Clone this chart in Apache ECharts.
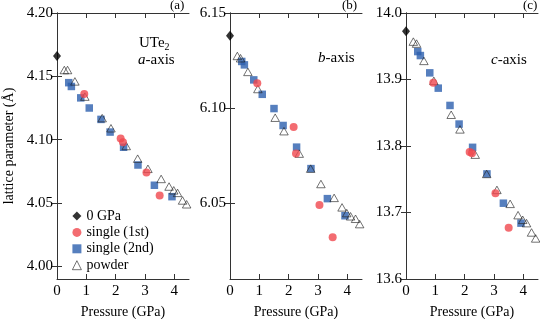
<!DOCTYPE html>
<html><head><meta charset="utf-8">
<script src="https://cdn.jsdelivr.net/npm/echarts@6/dist/echarts.min.js"></script>
<style>html,body{margin:0;padding:0;background:#fff}#c{width:540px;height:319px}</style>
</head><body><div id="c"></div>
<script>
// ---- data ----
const pressureZero = [0];
const pressure1st = [0.93, 2.17, 2.25, 3.05, 3.50];
const pressure2nd = [0.40, 0.49, 0.81, 1.10, 1.50, 1.81, 2.27, 2.76, 3.32, 3.92];
const pressurePowder = [0.25, 0.36, 0.61, 0.95, 1.54, 1.84, 2.36, 2.75, 3.10, 3.55, 3.82, 3.98, 4.11, 4.28, 4.42];

const aZero = [4.166];
const a1st = [4.136, 4.101, 4.098, 4.074, 4.056];
const a2nd = [4.145, 4.142, 4.133, 4.125, 4.116, 4.106, 4.094, 4.080, 4.064, 4.055];
const aPowder = [4.155, 4.155, 4.146, 4.134, 4.117, 4.109, 4.095, 4.085, 4.077, 4.069, 4.063, 4.060, 4.058, 4.052, 4.049];

const bZero = [6.138];
const b1st = [6.113, 6.090, 6.076, 6.049, 6.032];
const b2nd = [6.1245, 6.1227, 6.1148, 6.1072, 6.0997, 6.0908, 6.0794, 6.0681, 6.0523, 6.0433];
const bPowder = [6.1274, 6.1262, 6.1190, 6.1100, 6.0949, 6.0878, 6.0760, 6.0681, 6.0600, 6.0527, 6.0477, 6.0447, 6.0430, 6.0417, 6.0389];

const cZero = [13.9725];
const c1st = [13.895, 13.791, 13.789, 13.729, 13.677];
const c2nd = [13.942, 13.936, 13.910, 13.887, 13.861, 13.833, 13.798, 13.758, 13.714, 13.684];
const cPowder = [13.957, 13.954, 13.928, 13.898, 13.847, 13.825, 13.787, 13.758, 13.734, 13.713, 13.696, 13.689, 13.684, 13.670, 13.661];

const xTicks = [0, 1, 2, 3, 4];
const aTicks = [4.00, 4.05, 4.10, 4.15, 4.20];
const bTicks = [6.05, 6.10, 6.15];
const cTicks = [13.6, 13.7, 13.8, 13.9, 14.0];

const seriesNames = ['0 GPa', 'single (1st)', 'single (2nd)', 'powder'];
const panelLabels = ['(a)', '(b)', '(c)'];

// ---- layout/styles ----
const SERIF = '"Liberation Serif", "Times New Roman", serif';
const AX = '#333';
const grids = [
  {left: 57, top: 13, width: 132, height: 266, outerBoundsMode: 'none'},
  {left: 230, top: 13, width: 132, height: 266, outerBoundsMode: 'none'},
  {left: 406, top: 13, width: 132, height: 266, outerBoundsMode: 'none'}
];
const yRanges = [
  {min: 3.99, max: 4.20, ticks: aTicks, dec: 2},
  {min: 6.01, max: 6.15, ticks: bTicks, dec: 2},
  {min: 13.6, max: 14.0, ticks: cTicks, dec: 1}
];
const values = [
  [aZero, a1st, a2nd, aPowder],
  [bZero, b1st, b2nd, bPowder],
  [cZero, c1st, c2nd, cPowder]
];
const zip = (xs, ys) => xs.map((x, i) => [x, ys[i]]);

const xAxis = [], yAxis = [], series = [];
grids.forEach((g, i) => {
  xAxis.push({
    gridIndex: i, type: 'value', min: 0, max: 4.5, position: 'bottom',
    name: 'Pressure (GPa)', nameLocation: 'middle', nameGap: 26,
    nameTextStyle: {fontFamily: SERIF, fontSize: 14, color: '#000'},
    axisLine: {show: true, lineStyle: {color: AX, width: 1}},
    axisTick: {show: true, inside: true, length: 5, customValues: [1, 2, 3, 4], lineStyle: {color: AX}},
    axisLabel: {show: true, customValues: xTicks, margin: 5, fontFamily: SERIF, fontSize: 15, color: '#000'},
    splitLine: {show: false}
  });
  xAxis.push({
    gridIndex: i, type: 'value', min: 0, max: 4.5, position: 'top',
    axisLine: {show: true, lineStyle: {color: AX, width: 1}},
    axisTick: {show: true, inside: true, length: 5, customValues: [1, 2, 3, 4], lineStyle: {color: AX}},
    axisLabel: {show: false}, splitLine: {show: false}
  });
  const yr = yRanges[i];
  const yl = {
    gridIndex: i, type: 'value', min: yr.min, max: yr.max, position: 'left',
    axisLine: {show: true, lineStyle: {color: AX, width: 1}},
    axisTick: {show: true, inside: true, length: 5, customValues: yr.ticks, lineStyle: {color: AX}},
    axisLabel: {show: true, customValues: yr.ticks, margin: 4, fontFamily: SERIF, fontSize: 15, color: '#000',
      formatter: v => Number(v).toFixed(yr.dec)},
    splitLine: {show: false}
  };
  if (i === 0) {
    yl.name = 'lattice parameter (Å)';
    yl.nameLocation = 'middle';
    yl.nameGap = 41;
    yl.nameTextStyle = {fontFamily: SERIF, fontSize: 14, color: '#000'};
  }
  yAxis.push(yl);
  yAxis.push({
    gridIndex: i, type: 'value', min: yr.min, max: yr.max, position: 'right',
    axisLine: {show: true, lineStyle: {color: AX, width: 1}},
    axisTick: {show: true, inside: true, length: 5, customValues: yr.ticks, lineStyle: {color: AX}},
    axisLabel: {show: false}, splitLine: {show: false}
  });
  const v = values[i];
  const xi = 2 * i, yi = 2 * i;
  series.push({
    name: seriesNames[2], type: 'scatter', xAxisIndex: xi, yAxisIndex: yi,
    symbol: 'rect', symbolSize: 7.5, itemStyle: {color: '#2c5fae'},
    data: zip(pressure2nd, v[2]), z: 2
  });
  series.push({
    name: seriesNames[3], type: 'scatter', xAxisIndex: xi, yAxisIndex: yi,
    symbol: 'triangle', symbolSize: [8.5, 7.5],
    itemStyle: {color: 'rgba(255,255,255,0)', borderColor: '#222', borderWidth: 0.8},
    data: zip(pressurePowder, v[3]), z: 3
  });
  series.push({
    name: seriesNames[1], type: 'scatter', xAxisIndex: xi, yAxisIndex: yi,
    symbol: 'circle', symbolSize: 8, itemStyle: {color: '#f0474d'},
    data: zip(pressure1st, v[1]), z: 4
  });
  series.push({
    name: seriesNames[0], type: 'scatter', xAxisIndex: xi, yAxisIndex: yi,
    symbol: 'diamond', symbolSize: [8, 10], itemStyle: {color: '#000'},
    data: zip(pressureZero, v[0]), z: 5
  });
});

const txt = (extra) => Object.assign({fontFamily: SERIF, fontSize: 15, fontWeight: 'normal', color: '#000'}, extra || {});
const titleBase = {padding: 0, textStyle: {fontFamily: SERIF, fontSize: 13, fontWeight: 'normal', color: '#000'}};
const title = [
  Object.assign({}, titleBase, {text: panelLabels[0], left: 170, top: -1}),
  Object.assign({}, titleBase, {text: panelLabels[1], left: 342, top: -1}),
  Object.assign({}, titleBase, {text: panelLabels[2], left: 523, top: -1}),
  {text: '{n|UTe}{s|2}', left: 139, top: 34, padding: 0,
    textStyle: {fontWeight: 'normal', rich: {n: txt(), s: txt({fontSize: 10, padding: [8, 0, 0, 0]})}}},
  {text: '{i|a}{n|-axis}', left: 138, top: 53, padding: 0,
    textStyle: {fontWeight: 'normal', rich: {i: txt({fontStyle: 'italic'}), n: txt()}}},
  {text: '{i|b}{n|-axis}', left: 318, top: 51, padding: 0,
    textStyle: {fontWeight: 'normal', rich: {i: txt({fontStyle: 'italic'}), n: txt()}}},
  {text: '{i|c}{n|-axis}', left: 491, top: 53, padding: 0,
    textStyle: {fontWeight: 'normal', rich: {i: txt({fontStyle: 'italic'}), n: txt()}}}
];

const chart = echarts.init(document.getElementById('c'), null, {renderer: 'canvas'});
chart.setOption({
  animation: false,
  backgroundColor: '#fff',
  title: title,
  grid: grids,
  xAxis: xAxis,
  yAxis: yAxis,
  legend: {
    data: [
      {name: seriesNames[0]},
      {name: seriesNames[1]},
      {name: seriesNames[2]},
      {name: seriesNames[3], itemStyle: {borderWidth: 0.8, borderColor: '#222', color: 'rgba(255,255,255,0)'}}
    ],
    orient: 'vertical', left: 72, top: 209,
    itemWidth: 9, itemHeight: 9, itemGap: 2.4, padding: 0,
    textStyle: {fontFamily: SERIF, fontSize: 14, color: '#000', lineHeight: 14}
  },
  series: series
});
</script>
</body></html>
